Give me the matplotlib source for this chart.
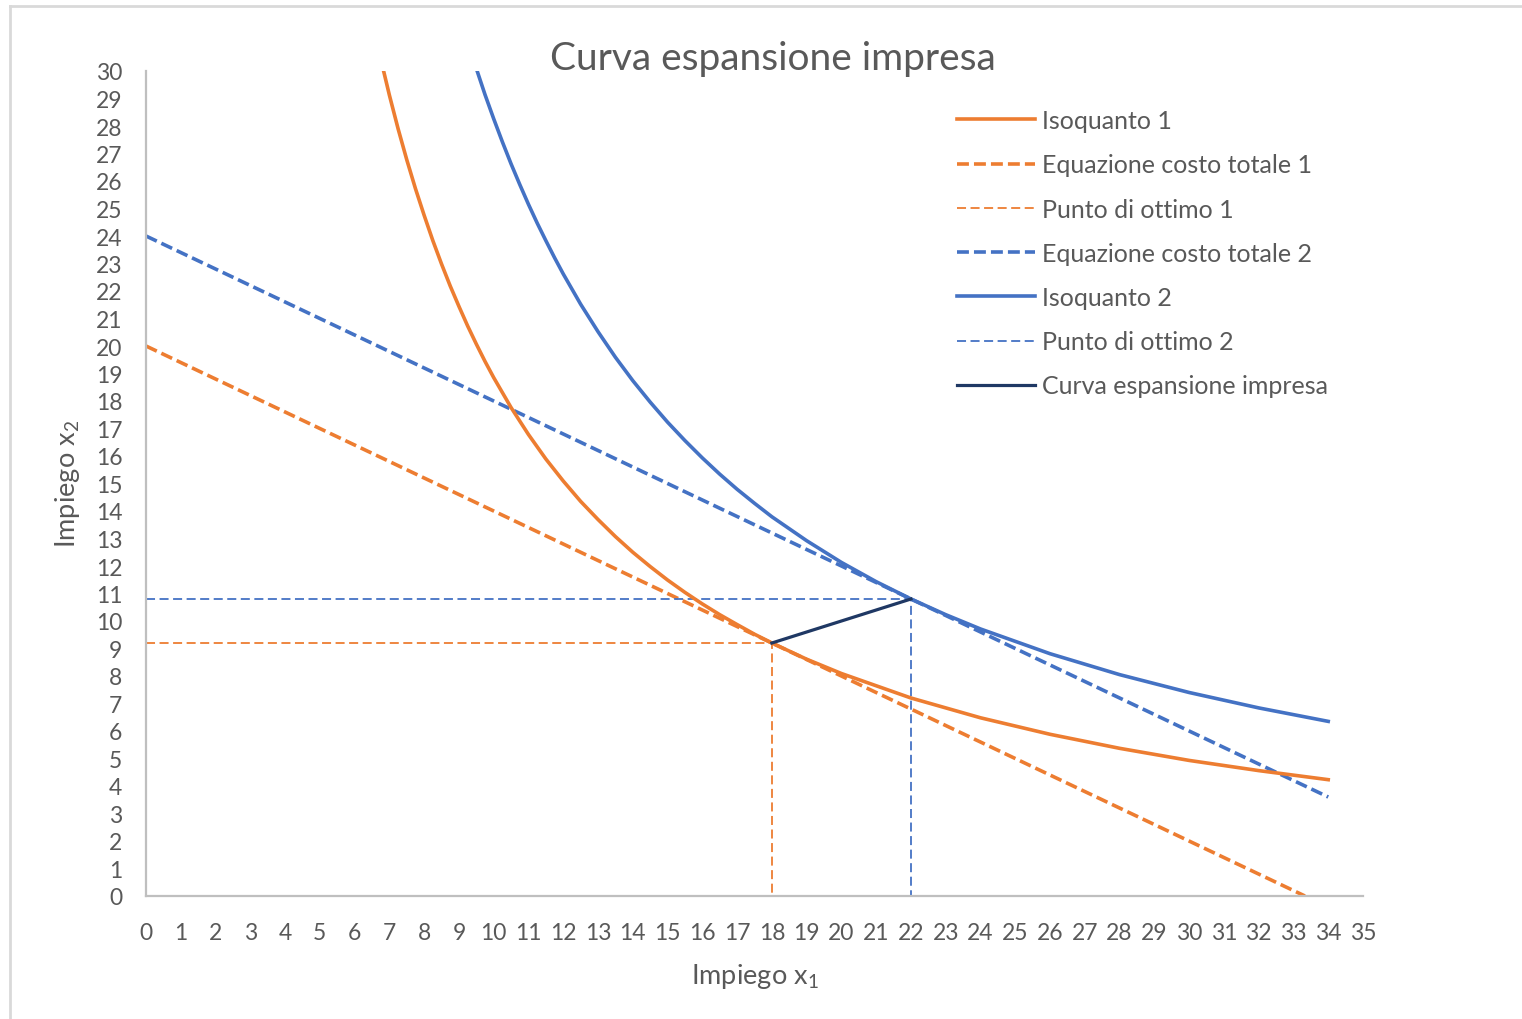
import matplotlib
matplotlib.use("Agg")
import matplotlib.pyplot as plt
from matplotlib.lines import Line2D

plt.rcParams['font.family'] = ['Lato', 'DejaVu Sans']
plt.rcParams['mathtext.fontset'] = 'custom'
plt.rcParams['mathtext.rm'] = 'Lato'
plt.rcParams['mathtext.it'] = 'Lato'

# ---- data ----
iso1_x = [6.5, 6.75, 7, 7.25, 7.5, 7.75, 8, 8.25, 8.5, 8.75, 9, 9.25, 9.5, 9.75, 10, 10.5, 11, 11.5, 12,
          12.5, 13, 13.5, 14, 14.5, 15, 15.5, 16, 16.5, 17, 17.5, 18, 19, 20, 22, 24, 26, 28, 30, 32, 34]
iso1_y = [31.88, 30.44, 29.12, 27.90, 26.77, 25.72, 24.75, 23.83, 22.98, 22.18, 21.44, 20.73, 20.07, 19.44,
          18.85, 17.76, 16.78, 15.89, 15.09, 14.35, 13.69, 13.07, 12.50, 11.98, 11.49, 11.04, 10.62, 10.23,
          9.87, 9.52, 9.2, 8.61, 8.09, 7.20, 6.48, 5.88, 5.37, 4.93, 4.56, 4.23]

cost1_x = [0, 33.33]
cost1_y = [20, 0]

opt1_x = [0, 18, 18]
opt1_y = [9.2, 9.2, 0]

cost2_x = [0, 34]
cost2_y = [24, 3.6]

iso2_x = [9, 9.25, 9.5, 9.75, 10, 10.25, 10.5, 10.75, 11, 11.25, 11.5, 11.75, 12, 12.5, 13, 13.5, 14,
          14.5, 15, 15.5, 16, 16.5, 17, 17.5, 18, 19, 20, 21, 22, 23, 24, 26, 28, 30, 32, 34]
iso2_y = [32.14, 31.08, 30.09, 29.14, 28.26, 27.42, 26.62, 25.87, 25.15, 24.47, 23.83, 23.21, 22.62, 21.52,
          20.52, 19.59, 18.74, 17.96, 17.23, 16.56, 15.93, 15.34, 14.79, 14.28, 13.79, 12.92, 12.13, 11.43,
          10.8, 10.23, 9.71, 8.81, 8.05, 7.40, 6.84, 6.35]

opt2_x = [0, 22, 22]
opt2_y = [10.8, 10.8, 0]

exp_x = [18, 22]
exp_y = [9.2, 10.8]

x_ticks = list(range(0, 36))
y_ticks = list(range(0, 31))

title = "Curva espansione impresa"
labels = ["Isoquanto 1", "Equazione costo totale 1", "Punto di ottimo 1",
          "Equazione costo totale 2", "Isoquanto 2", "Punto di ottimo 2",
          "Curva espansione impresa"]

ORANGE = "#ED7D31"
BLUE = "#4472C4"
NAVY = "#1F3864"
GRAY = "#595959"

W, H = 1522, 1020
fig = plt.figure(figsize=(W / 100, H / 100), dpi=100)
fig.patch.set_facecolor("white")

# outer border (left and top only visible)
fig.add_artist(Line2D([10 / W, 10 / W], [0, 1 - 7 / H], transform=fig.transFigure, color="#D9D9D9", lw=2))
fig.add_artist(Line2D([10 / W, 1], [1 - 7 / H, 1 - 7 / H], transform=fig.transFigure, color="#D9D9D9", lw=2))

x0, x1 = 146, 1363
y0, y1 = 897, 72
ax = fig.add_axes([x0 / W, 1 - y0 / H, (x1 - x0) / W, (y0 - y1) / H])

lw_main = 2.6
dash_cost = (0, (3.3, 1.4))
dash_opt = (0, (5, 2.5))
l1, = ax.plot(iso1_x, iso1_y, color=ORANGE, lw=lw_main, label=labels[0], zorder=3)
l2, = ax.plot(cost1_x, cost1_y, color=ORANGE, lw=lw_main, ls=dash_cost, label=labels[1], zorder=2)
l3, = ax.plot(opt1_x, opt1_y, color=ORANGE, lw=1.3, ls=dash_opt, label=labels[2], zorder=2)
l4, = ax.plot(cost2_x, cost2_y, color=BLUE, lw=lw_main, ls=dash_cost, label=labels[3], zorder=2)
l5, = ax.plot(iso2_x, iso2_y, color=BLUE, lw=lw_main, label=labels[4], zorder=3)
l6, = ax.plot(opt2_x, opt2_y, color=BLUE, lw=1.3, ls=dash_opt, label=labels[5], zorder=2)
l7, = ax.plot(exp_x, exp_y, color=NAVY, lw=2.3, label=labels[6], zorder=4)

ax.set_xlim(0, 35)
ax.set_ylim(0, 30)
ax.set_xticks(x_ticks)
ax.set_yticks(y_ticks)
ax.tick_params(axis='both', length=0, labelsize=16.5, labelcolor=GRAY)
ax.tick_params(axis='x', pad=19)
ax.tick_params(axis='y', pad=17)
for s in ["top", "right"]:
    ax.spines[s].set_visible(False)
for s in ["left", "bottom"]:
    ax.spines[s].set_color("#BFBFBF")
    ax.spines[s].set_linewidth(1.6)
ax.set_facecolor("white")

fig.text(773 / W, 1 - 59 / H, title, ha="center", va="center", fontsize=28, color=GRAY)
fig.text(755 / W, 1 - 977 / H, r"Impiego x$_{\mathregular{1}}$", ha="center", va="center", fontsize=19.5, color=GRAY)
fig.text(68 / W, 1 - 484 / H, r"Impiego x$_{\mathregular{2}}$", ha="center", va="center", fontsize=19.5, color=GRAY, rotation=90)

leg = ax.legend(handles=[l1, l2, l3, l4, l5, l6, l7], loc="upper left",
                bbox_to_anchor=(957 / W, 1 - 110 / H), bbox_transform=fig.transFigure,
                frameon=False, fontsize=18, handlelength=3.1, handletextpad=0.3,
                labelspacing=0.85, borderpad=0, borderaxespad=0)
for t in leg.get_texts():
    t.set_color(GRAY)

fig.savefig("out.png", dpi=100, facecolor="white")
